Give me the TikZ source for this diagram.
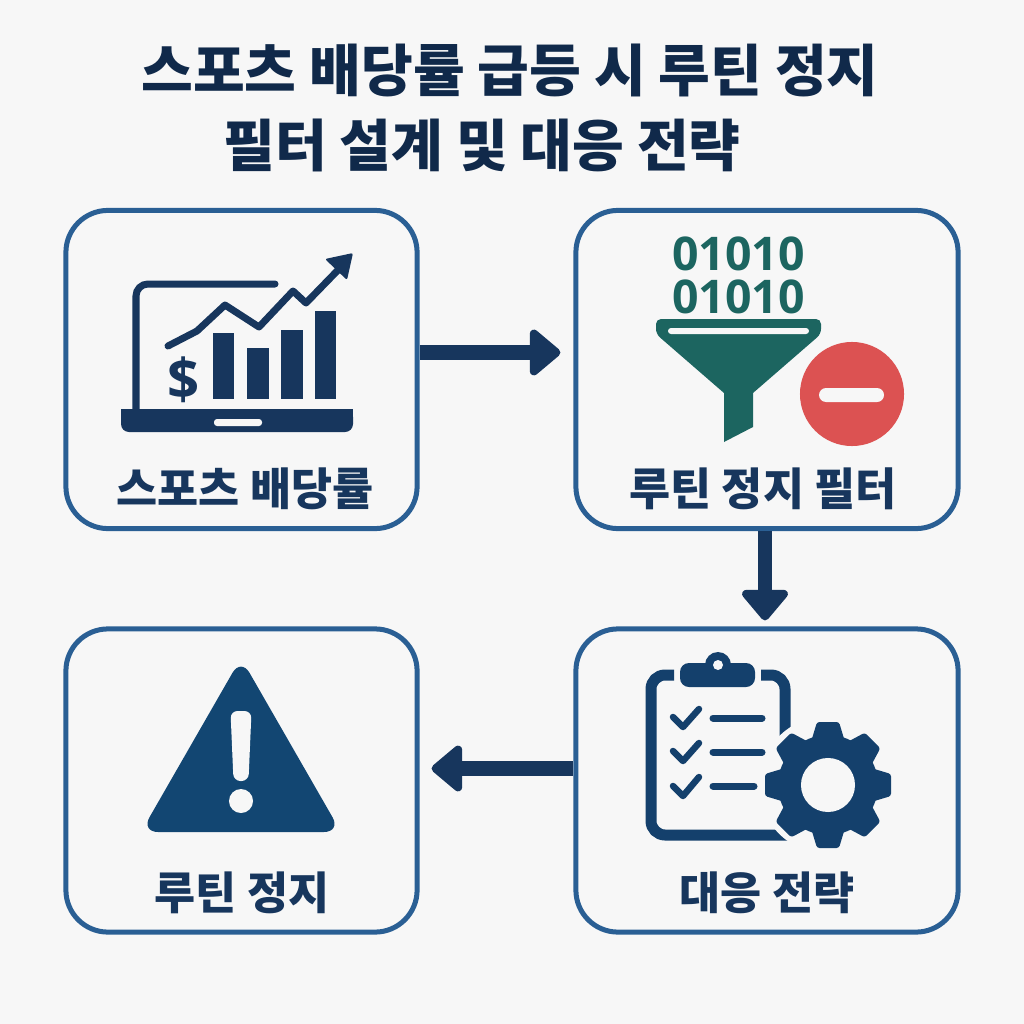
\documentclass[tikz,border=0pt]{standalone}
\usepackage{fontspec}
\setmainfont{Noto Sans CJK KR}
\newfontfamily\heavyfont{Noto Sans CJK KR Black}
\newfontfamily\digitfont{Open Sans}
\usetikzlibrary{arrows.meta}
\definecolor{pagebg}{HTML}{F7F7F7}
\definecolor{cardblue}{HTML}{2A5F94}
\definecolor{inknavy}{HTML}{17365D}
\definecolor{iconnavy}{HTML}{14406C}
\definecolor{warnblue}{HTML}{124672}
\definecolor{titlenavy}{HTML}{10294A}
\definecolor{funnelgreen}{HTML}{1C6560}
\definecolor{stopred}{HTML}{DC5252}
\tikzset{
  cardbox/.style={draw=cardblue, line width=0.05cm, rounded corners=0.42cm, fill=pagebg},
  cardlabel/.style={text=inknavy, font=\fontsize{12.7pt}{15pt}\heavyfont},
  headline/.style={text=titlenavy, font=\fontsize{16pt}{19pt}\heavyfont},
  bitrow/.style={text=funnelgreen, font=\fontsize{13.2pt}{15pt}\digitfont\bfseries},
  flowarrow/.style={draw=inknavy, line width=0.145cm, -{Triangle[length=0.33cm,width=0.53cm,round]}},
  gearbar/.style={fill=iconnavy, rounded corners=0.025cm},
  checkmark/.style={draw=iconnavy, line width=0.065cm, line cap=round, line join=round},
  listline/.style={draw=iconnavy, line width=0.07cm, line cap=round},
}
\begin{document}
\begin{tikzpicture}[x=0.01cm,y=-0.01cm]
  \useasboundingbox (0,0) rectangle (1024,1024);
  \fill[pagebg] (0,0) rectangle (1024,1024);

  \node[headline] (titleone) at (510,70) {스포츠 배당률 급등 시 루틴 정지};
  \node[headline] (titletwo) at (482,145) {필터 설계 및 대응 전략};

  \node[cardbox, minimum width=3.51cm, minimum height=3.18cm] (odds) at (241.5,369.5) {};
  \node[cardbox, minimum width=3.82cm, minimum height=3.18cm] (filter) at (767,369.5) {};
  \node[cardbox, minimum width=3.82cm, minimum height=3.03cm] (plan) at (767,780.5) {};
  \node[cardbox, minimum width=3.51cm, minimum height=3.03cm] (halt) at (241.5,780.5) {};

  \node[cardlabel] (oddslabel) at (245,489) {스포츠 배당률};
  \node[cardlabel] (filterlabel) at (763,489) {루틴 정지 필터};
  \node[cardlabel] (planlabel) at (767,893) {대응 전략};
  \node[cardlabel] (haltlabel) at (242,893) {루틴 정지};

  \draw[flowarrow, shorten >=0.13cm] ([yshift=0.17cm]odds.east)--([yshift=0.17cm]filter.west);
  \draw[flowarrow, shorten >=0.06cm] ([xshift=-0.02cm]filter.south)--([xshift=-0.02cm]plan.north);
  \draw[flowarrow, shorten >=0.12cm] ([yshift=0.12cm]plan.west)--([yshift=0.12cm]halt.east);

  % laptop
  \draw[inknavy, line width=0.07cm, line cap=round, rounded corners=0.12cm] (136,410)--(136,284)--(275,284);
  \fill[inknavy, rounded corners=0.08cm] (121,409)--(353,409)--(353,432)--(121,432)--cycle;
  \fill[inknavy] (121,409) rectangle (353,418);
  \fill[pagebg, rounded corners=0.03cm] (214,419) rectangle (262,426);
  \fill[inknavy] (213,333) rectangle (234,399);
  \fill[inknavy] (247,348) rectangle (269,399);
  \fill[inknavy] (281,330) rectangle (303,399);
  \fill[inknavy] (315,311) rectangle (336,399);
  \draw[inknavy, line width=0.07cm, line cap=round, line join=round] (168,346)--(197,331)--(225,305)--(259,327)--(293,291)--(306,303)--(340,268);
  \fill[inknavy, rounded corners=0.02cm] (353,253)--(325,259)--(347,280)--cycle;
  \node[text=inknavy, font=\fontsize{16pt}{18pt}\digitfont\bfseries] (dollar) at (184,380) {\$};

  % funnel
  \node[bitrow] (bitsone) at (738.5,254) {01010};
  \node[bitrow] (bitstwo) at (738.5,297) {01010};
  \fill[funnelgreen] (724,393)[rounded corners=0.05cm]--(656,334)--(656,319)--(821,319)--(821,334)[sharp corners]--(753,393)--(753,427)--(724,442)--cycle;
  \fill[pagebg, rounded corners=0.03cm] (668,328) rectangle (809,334);
  \fill[stopred] (852,394) circle (0.52cm);
  \fill[pagebg, rounded corners=0.07cm] (819,388) rectangle (884,402);

  % clipboard
  \draw[iconnavy, line width=0.11cm, rounded corners=0.14cm] (674,675)--(651,675)--(651,835)--(790,835);
  \draw[iconnavy, line width=0.11cm, rounded corners=0.14cm] (761,675)--(785,675)--(785,745);
  \fill[iconnavy, rounded corners=0.09cm] (680,663) rectangle (755,687);
  \fill[iconnavy] (718,665) circle (0.13cm);
  \fill[pagebg] (718,665) circle (0.05cm);
  \draw[checkmark] (673,717)--(683,727)--(699,709);
  \draw[checkmark] (673,751)--(683,761)--(699,743);
  \draw[checkmark] (673,786)--(683,796)--(699,777);
  \draw[listline] (713,718)--(762,718);
  \draw[listline] (713,752)--(762,752);
  \draw[listline] (713,786)--(754,786);

  % gear
  \fill[pagebg] (828,785) circle (0.69cm);
  \fill[iconnavy] (828,785) circle (0.5cm);
  \fill[gearbar, rotate around={0:(828,785)}] (817,722)--(839,722)--(845,742)--(845,828)--(839,848)--(817,848)--(811,828)--(811,742)--cycle;
  \fill[gearbar, rotate around={45:(828,785)}] (817,722)--(839,722)--(845,742)--(845,828)--(839,848)--(817,848)--(811,828)--(811,742)--cycle;
  \fill[gearbar, rotate around={90:(828,785)}] (817,722)--(839,722)--(845,742)--(845,828)--(839,848)--(817,848)--(811,828)--(811,742)--cycle;
  \fill[gearbar, rotate around={135:(828,785)}] (817,722)--(839,722)--(845,742)--(845,828)--(839,848)--(817,848)--(811,828)--(811,742)--cycle;
  \fill[pagebg] (828,785) circle (0.27cm);

  % warning sign
  \fill[warnblue, rounded corners=0.17cm] (241,658)--(341,832)--(141,832)--cycle;
  \fill[pagebg, rounded corners=0.07cm] (230.5,711)--(251.5,711)--(248.5,781)--(233.5,781)--cycle;
  \fill[pagebg] (241,801) circle (0.12cm);
\end{tikzpicture}
\end{document}
